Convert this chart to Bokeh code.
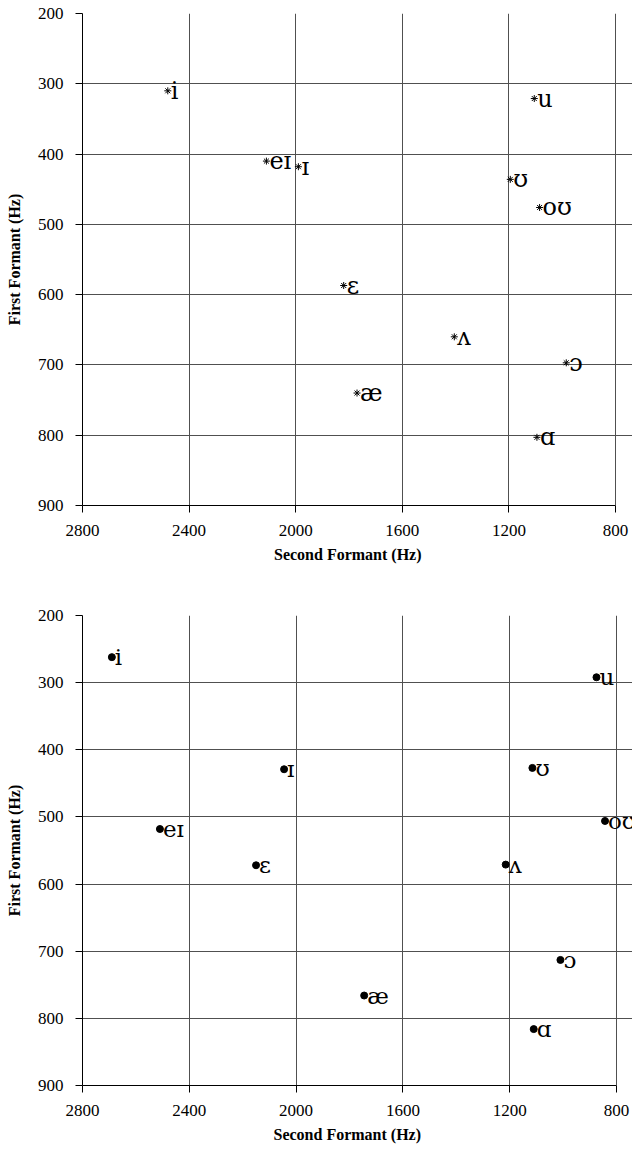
from bokeh.plotting import figure
from bokeh.layouts import column
from bokeh.models import Range1d, FixedTicker, ColumnDataSource, LabelSet, Title
from bokeh.core.properties import value
from bokeh.embed import file_html
from bokeh.resources import INLINE

vowels = ["i", "ɪ", "eɪ", "ɛ", "æ", "ʌ", "ɑ", "ɔ", "oʊ", "ʊ", "u"]

top_f2 = [2480, 1990, 2110, 1820, 1770, 1405, 1095, 985, 1085, 1195, 1105]
top_f1 = [310, 418, 410, 587, 740, 660, 803, 697, 476, 436, 321]

bottom_f2 = [2690, 2045, 2510, 2150, 1745, 1215, 1110, 1010, 843, 1115, 875]
bottom_f1 = [262, 429, 518, 572, 766, 571, 816, 713, 506, 427, 292]

x_ticks = [2800, 2400, 2000, 1600, 1200, 800]
y_ticks = [200, 300, 400, 500, 600, 700, 800, 900]

x_title = "Second Formant (Hz)"
y_title = "First Formant (Hz)"

SERIF = "Liberation Serif"
IPA_FONT = "DejaVu Serif"
GRID = "#505050"


def make(f2, f1, marker, msize, fs, height, top, bottom, left, frame_px):
    # frame extends to the canvas edge so that labels near 800 Hz are not cut;
    # the chart box itself still ends at 800 Hz (axis/grid bounds)
    hz_per_px = 2000.0 / frame_px
    extra = 632 - left - frame_px
    x_end = 800 - extra * hz_per_px
    p = figure(width=632, height=height, output_backend="svg", toolbar_location=None,
               x_range=Range1d(2800, x_end), y_range=Range1d(900, 200),
               min_border_left=left, min_border_right=0,
               min_border_top=top, min_border_bottom=bottom)
    p.background_fill_color = "white"
    p.border_fill_color = "white"
    p.outline_line_color = None

    p.xaxis.ticker = FixedTicker(ticks=x_ticks)
    p.yaxis.ticker = FixedTicker(ticks=y_ticks)
    p.xgrid.ticker = FixedTicker(ticks=x_ticks)
    p.ygrid.ticker = FixedTicker(ticks=y_ticks)
    p.xaxis.bounds = (800, 2800)
    p.ygrid.bounds = (800, 2800)
    p.grid.grid_line_color = GRID
    p.grid.grid_line_width = 1
    p.grid.grid_line_alpha = 1

    for ax in (p.xaxis, p.yaxis):
        ax.axis_line_color = "black"
        ax.major_tick_line_color = "black"
        ax.major_tick_out = 7
        ax.major_tick_in = 0
        ax.minor_tick_line_color = None
        ax.major_label_text_font = SERIF
        ax.major_label_text_font_size = "17px"
        ax.major_label_text_color = "black"
        ax.axis_label_text_font = SERIF
        ax.axis_label_text_font_style = "bold"
        ax.axis_label_text_font_size = "16px"
        ax.axis_label_text_color = "black"

    p.yaxis.axis_label = y_title
    p.xaxis.major_label_standoff = 12
    p.yaxis.major_label_standoff = 12
    p.yaxis.axis_label_standoff = 12

    # x-axis title centred under the 2800-800 Hz box (label width ~147 px)
    xt = Title(text=x_title, align="left", offset=frame_px / 2.0 - 76,
               text_font=SERIF, text_font_style="bold", text_font_size="16px",
               text_color="black", standoff=10)
    p.add_layout(xt, "below")

    src = ColumnDataSource(dict(f2=f2, f1=f1, v=vowels))
    if marker == "circle":
        p.scatter("f2", "f1", source=src, marker="circle", size=msize,
                  fill_color="black", line_color="black")
    else:
        p.scatter("f2", "f1", source=src, marker=marker, size=msize,
                  line_color="black", line_width=1)
    labels = LabelSet(x="f2", y="f1", text="v", source=src, x_offset=3,
                      text_baseline="middle", text_align="left",
                      text_font=value(IPA_FONT), text_font_size=fs,
                      text_color="black")
    p.add_layout(labels)
    return p


p1 = make(top_f2, top_f1, "asterisk", 7, "24px", 580, 13, 75, 80, 535)
p2 = make(bottom_f2, bottom_f1, "circle", 7, "23px", 577, 35, 72, 82, 534)

layout = column(p1, p2)
open("out.html", "w").write(file_html(layout, INLINE))
